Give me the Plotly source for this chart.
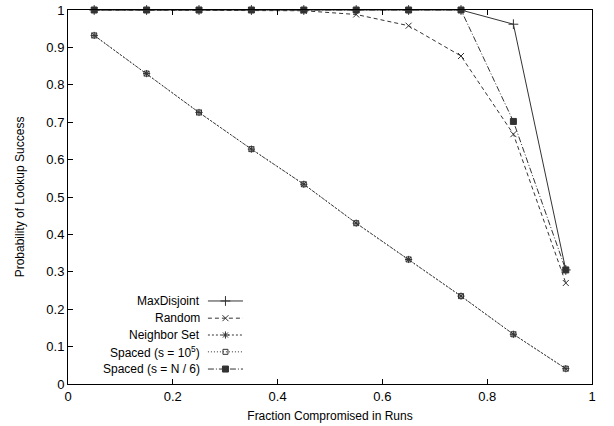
import plotly.graph_objects as go

# Fraction of nodes compromised (runs)
fraction = [0.05, 0.15, 0.25, 0.35, 0.45, 0.55, 0.65, 0.75, 0.85, 0.95]

# Probability of lookup success per strategy
max_disjoint = [1.0, 1.0, 1.0, 1.0, 1.0, 1.0, 1.0, 1.0, 0.962, 0.305]
random_sel = [1.0, 1.0, 1.0, 1.0, 0.998, 0.988, 0.958, 0.877, 0.668, 0.27]
neighbor_set = [0.932, 0.83, 0.726, 0.628, 0.534, 0.43, 0.333, 0.235, 0.133, 0.041]
spaced_1e5 = [0.932, 0.83, 0.726, 0.628, 0.534, 0.43, 0.333, 0.235, 0.133, 0.041]
spaced_n6 = [1.0, 1.0, 1.0, 1.0, 1.0, 1.0, 1.0, 1.0, 0.702, 0.305]

series_names = [
    "MaxDisjoint",
    "Random",
    "Neighbor Set",
    "Spaced (s = 10<sup>5</sup>)",
    "Spaced (s = N / 6)",
]
series_values = [max_disjoint, random_sel, neighbor_set, spaced_1e5, spaced_n6]

x_ticks = [0, 0.2, 0.4, 0.6, 0.8, 1]
y_ticks = [0, 0.1, 0.2, 0.3, 0.4, 0.5, 0.6, 0.7, 0.8, 0.9, 1]

LINE = "#333333"
styles = [
    dict(dash="solid", symbol="cross-thin-open", size=7),
    dict(dash="4px,3px", symbol="x-thin-open", size=6),
    dict(dash="2px,2px", symbol="asterisk-open", size=6),
    dict(dash="1px,2px", symbol="square-open", size=5),
    dict(dash="6px,2px,1px,2px", symbol="square", size=6),
]

fig = go.Figure()

for name, vals, st in zip(series_names, series_values, styles):
    fig.add_trace(go.Scatter(
        x=fraction, y=vals, mode="lines+markers", name=name,
        line=dict(color=LINE, width=1, dash=st["dash"]),
        marker=dict(symbol=st["symbol"], size=st["size"], color=LINE,
                    line=dict(color=LINE, width=1)),
        cliponaxis=False, showlegend=False,
    ))

# gnuplot-style key: right-aligned labels followed by a line sample
key_right = 0.256          # label right edge (axis fraction)
key_x0, key_x1 = 0.267, 0.334
key_rows = [0.222, 0.176, 0.131, 0.086, 0.040]
for name, st, ky in zip(series_names, styles, key_rows):
    fig.add_trace(go.Scatter(
        x=[key_x0, (key_x0 + key_x1) / 2, key_x1], y=[ky, ky, ky],
        xaxis="x2", yaxis="y2", mode="lines",
        line=dict(color=LINE, width=1, dash=st["dash"]),
        showlegend=False, hoverinfo="skip",
    ))
    fig.add_trace(go.Scatter(
        x=[(key_x0 + key_x1) / 2], y=[ky], xaxis="x2", yaxis="y2",
        mode="markers",
        marker=dict(symbol=st["symbol"], size=st["size"], color=LINE,
                    line=dict(color=LINE, width=1)),
        showlegend=False, hoverinfo="skip",
    ))
    fig.add_annotation(
        x=key_right, y=ky, xref="x2", yref="y2", text=name,
        showarrow=False, xanchor="right", yanchor="middle",
        font=dict(family="Liberation Sans, Arial", size=12, color="black"),
    )

font = dict(family="Liberation Sans, Arial", size=12, color="black")
tick_font = dict(family="Liberation Sans, Arial", size=13, color="black")

fig.update_layout(
    width=614, height=426, autosize=False,
    margin=dict(l=68, r=22, t=10, b=42, pad=0),
    paper_bgcolor="white", plot_bgcolor="white",
    font=font, showlegend=False,
    xaxis=dict(
        range=[0, 1], tickvals=x_ticks, ticktext=[f"{v:g}" for v in x_ticks],
        ticks="inside", ticklen=5, tickcolor="black", tickwidth=1,
        showline=True, linecolor="black", linewidth=1, mirror="allticks",
        showgrid=False, zeroline=False, tickfont=tick_font, automargin=False,
        title=dict(text="Fraction Compromised in Runs", font=font, standoff=9),
    ),
    yaxis=dict(
        range=[0, 1], tickvals=y_ticks, ticktext=[f"{v:g}" for v in y_ticks],
        ticks="inside", ticklen=5, tickcolor="black", tickwidth=1,
        showline=True, linecolor="black", linewidth=1, mirror=True,
        showgrid=False, zeroline=False, tickfont=tick_font, automargin=False,
        title=dict(text="Probability of Lookup Success", font=font, standoff=19),
    ),
    xaxis2=dict(range=[0, 1], overlaying="x", visible=False, fixedrange=True),
    yaxis2=dict(range=[0, 1], overlaying="y", visible=False, fixedrange=True),
)

fig.write_html("out.html")
